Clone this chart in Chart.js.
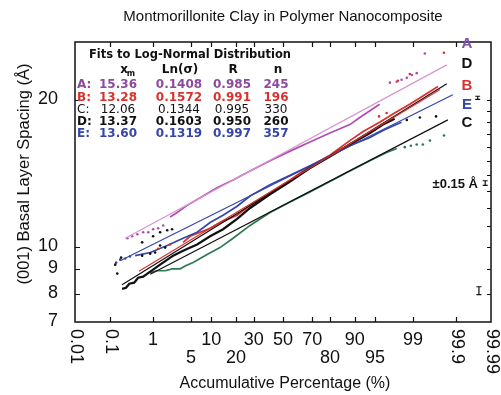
<!DOCTYPE html>
<html>
<head>
<meta charset="utf-8">
<script src="https://cdn.jsdelivr.net/npm/chart.js@4.4.1/dist/chart.umd.min.js"></script>
<style>
  html, body { margin: 0; padding: 0; background: #fff; }
  #wrap { width: 501px; height: 395px; }
</style>
</head>
<body>
<div id="wrap"><canvas id="clayChart" width="501" height="395"></canvas></div>
<script>
// --- axis ticks ---
const xTickValues = [0.01, 0.1, 1, 5, 10, 20, 30, 50, 70, 80, 90, 95, 99, 99.9, 99.99];
const xTickLabels = ['0.01', '0.1', '1', '5', '10', '20', '30', '50', '70', '80', '90', '95', '99', '99.9', '99.99'];
const yTickValues = [7, 8, 9, 10, 20];

// --- measured spacings (percent, Angstrom) ---
const pctA = [2.18, 2.92, 4.33, 6.92, 11.9, 18.6, 27.8, 40.8, 55.0, 68.5, 79.9, 88.4, 91.5, 94.0, 95.8];
const spcA = [11.5, 11.75, 12.15, 12.6, 13.2, 13.7, 14.3, 15.0, 15.7, 16.4, 17.1, 17.8, 18.4, 19.0, 19.6];
const tailPctA = [0.27, 0.35, 0.46, 0.62, 0.80, 1.01, 1.28, 1.61, 97.2, 97.9, 98.3, 98.66, 98.94, 99.16, 99.44];
const tailSpcA = [10.4, 10.5, 10.6, 10.7, 10.7, 10.85, 10.9, 11.05, 21.7, 21.8, 22.0, 22.2, 22.5, 22.7, 24.9];

const pctB = [3.70, 4.84, 6.92, 9.62, 13.0, 20.6, 27.8, 40.8, 55.0, 68.5, 79.9, 88.4, 92.3, 95.8, 97.7, 98.83, 99.44, 99.72];
const spcB = [10.2, 10.5, 10.7, 10.9, 11.2, 11.6, 12.15, 12.9, 13.7, 14.6, 15.4, 16.5, 17.2, 18.0, 18.8, 19.6, 20.5, 21.3];
const tailPctB = [1.28, 2.18, 95.7, 96.8, 98.0, 98.83, 99.80];
const tailSpcB = [9.9, 10.1, 18.5, 18.8, 21.9, 22.6, 25.0];

const pctC = [0.88, 1.22, 1.76, 2.37, 3.30, 4.16, 5.40, 8.74, 13.0, 18.6, 27.8, 40.8, 55.0, 68.5, 79.9, 88.4, 94.0, 96.8, 97.9];
const spcC = [8.84, 8.92, 8.92, 9.0, 9.0, 9.14, 9.27, 9.63, 9.95, 10.4, 11.05, 11.75, 12.35, 12.95, 13.6, 14.3, 15.0, 15.6, 15.9];
const tailPctC = [98.53, 98.89, 99.16, 99.38, 99.57, 99.80];
const tailSpcC = [16.0, 16.1, 16.2, 16.2, 16.5, 16.9];

const pctD = [0.20, 0.25, 0.30, 0.39, 0.48, 0.62, 0.88, 1.40, 2.48, 3.70, 6.23, 9.62, 14.2, 20.6, 27.8, 40.8, 55.0, 68.5, 79.9, 88.4, 94.0, 96.3, 97.7];
const spcD = [8.19, 8.23, 8.39, 8.43, 8.63, 8.67, 8.88, 9.18, 9.58, 9.8, 10.1, 10.5, 10.85, 11.4, 12.0, 12.8, 13.6, 14.5, 15.3, 16.2, 17.1, 17.8, 18.3];
const tailPctD = [0.135, 0.152, 0.19, 0.59, 0.59, 0.88, 1.11, 1.01, 1.40, 1.92, 2.37, 1.40, 1.76, 98.66, 99.28, 99.69];
const tailSpcD = [9.18, 8.8, 9.49, 10.2, 9.58, 9.67, 9.72, 10.5, 10.7, 10.8, 10.85, 10.05, 9.95, 18.2, 18.4, 18.5];

const pctE = [0.41, 0.88, 1.92, 3.70, 6.23, 9.62, 14.2, 20.6, 27.8, 40.8, 55.0, 68.5, 79.9, 88.4, 94.0, 96.3, 97.7, 98.3];
const spcE = [9.58, 9.72, 10.05, 10.4, 10.7, 11.2, 11.6, 12.1, 12.7, 13.4, 14.0, 14.65, 15.35, 16.1, 16.75, 17.3, 17.75, 18.0];
const tailPctE = [0.143, 0.18, 0.24, 0.31];
const tailSpcE = [9.27, 9.4, 9.45, 9.54];

// --- log-normal fit lines (end points) ---
const fitPctA = [0.24, 99.83], fitSpcA = [10.4, 23.6];
const fitPctB = [0.5, 99.75], fitSpcB = [8.9, 21.0];
const fitPctC = [0.88, 99.84], fitSpcC = [8.77, 18.2];
const fitPctD = [0.20, 99.83], fitSpcD = [8.35, 21.6];
const fitPctE = [0.18, 99.88], fitSpcE = [9.35, 20.5];

// --- fit table ---
const fitNames = ['A', 'B', 'C', 'D', 'E'];
const fitXm = [15.36, 13.28, 12.06, 13.37, 13.60];
const fitLnSigma = [0.1408, 0.1572, 0.1344, 0.1603, 0.1319];
const fitR = [0.985, 0.991, 0.995, 0.950, 0.997];
const fitN = [245, 196, 330, 260, 357];

// --- error bars (+/- 0.15 A) ---
const errPct = [99.975, 99.985, 99.977];
const errSpc = [20.2, 13.5, 8.12];
const errHalf = 0.15;

const colA = '#b04db0', colAfit = '#d896d2', colAtext = '#8a4a9e';
const colB = '#d8322f';
const colC = '#2f7a55';
const colD = '#111111';
const colE = '#3646a8';

// inverse normal CDF (Acklam)
function probit(p) {
    const a = [-39.69683028665376, 220.9460984245205, -275.9285104469687, 138.3577518672690, -30.66479806614716, 2.506628277459239];
    const b = [-54.47609879822406, 161.5858368580409, -155.6989798598866, 66.80131188771972, -13.28068155288572];
    const c = [-0.007784894002430293, -0.3223964580411365, -2.400758277161838, -2.549671348912368, 4.374664141464968, 2.938163982698783];
    const d = [0.007784695709041462, 0.3224671290700398, 2.445134137142996, 3.754408661907416];
    const pl = 0.02425;
    if (p < pl) {
        const q = Math.sqrt(-2 * Math.log(p));
        return (((((c[0] * q + c[1]) * q + c[2]) * q + c[3]) * q + c[4]) * q + c[5]) / ((((d[0] * q + d[1]) * q + d[2]) * q + d[3]) * q + 1);
    }
    if (p > 1 - pl) {
        const q = Math.sqrt(-2 * Math.log(1 - p));
        return -(((((c[0] * q + c[1]) * q + c[2]) * q + c[3]) * q + c[4]) * q + c[5]) / ((((d[0] * q + d[1]) * q + d[2]) * q + d[3]) * q + 1);
    }
    const q = p - 0.5, r = q * q;
    return (((((a[0] * r + a[1]) * r + a[2]) * r + a[3]) * r + a[4]) * r + a[5]) * q / (((((b[0] * r + b[1]) * r + b[2]) * r + b[3]) * r + b[4]) * r + 1);
}

// normal probability axis
class ProbabilityScale extends Chart.LinearScale {
    determineDataLimits() {
        this.min = xTickValues[0];
        this.max = xTickValues[xTickValues.length - 1];
    }
    buildTicks() {
        return xTickValues.map(value => ({ value }));
    }
    getPixelForValue(value) {
        const zMin = probit(this.min / 100);
        const zMax = probit(this.max / 100);
        return this.getPixelForDecimal((probit(value / 100) - zMin) / (zMax - zMin));
    }
}
ProbabilityScale.id = 'probability';
ProbabilityScale.defaults = {};
Chart.register(ProbabilityScale);

const toPoints = (xs, ys) => xs.map((v, i) => ({ x: v, y: ys[i] }));

const lineSet = (xs, ys, color, width, order) => ({
    data: toPoints(xs, ys), showLine: true, borderColor: color, borderWidth: width,
    pointRadius: 0, tension: 0, order
});
const dotSet = (xs, ys, color) => ({
    data: toPoints(xs, ys), showLine: false, backgroundColor: color, borderWidth: 0,
    pointRadius: 1.3, order: 1
});

const errorSets = errPct.map((p, i) => ({
    data: toPoints([p, p], [errSpc[i] - errHalf, errSpc[i] + errHalf]),
    showLine: true, borderColor: '#111', borderWidth: 1.2,
    pointStyle: 'line', pointRadius: 2.5, pointBorderWidth: 1.2, pointBorderColor: '#111',
    order: 0
}));

const decorPlugin = {
    id: 'decor',
    afterDatasetsDraw(chart) {
        const { ctx, chartArea: area, scales: { x, y } } = chart;
        ctx.save();

        // frame + inward ticks
        ctx.strokeStyle = '#111';
        ctx.lineWidth = 1.5;
        ctx.strokeRect(area.left, area.top, area.right - area.left, area.bottom - area.top);
        ctx.lineWidth = 1.2;
        ctx.beginPath();
        xTickValues.slice(1, -1).forEach(v => {
            const px = Math.round(x.getPixelForValue(v)) + 0.5;
            ctx.moveTo(px, area.bottom); ctx.lineTo(px, area.bottom - 5);
            ctx.moveTo(px, area.top); ctx.lineTo(px, area.top + 5);
        });
        [8, 9, 10, 11, 12, 13, 14, 15, 16, 17, 18, 19, 20].forEach(v => {
            const py = Math.round(y.getPixelForValue(v)) + 0.5;
            if (yTickValues.includes(v)) { ctx.moveTo(area.left, py); ctx.lineTo(area.left + 5, py); }
            ctx.moveTo(area.right, py); ctx.lineTo(area.right - 4, py);
        });
        ctx.stroke();

        ctx.fillStyle = '#111';
        ctx.textBaseline = 'middle';

        // title
        ctx.font = '15px "Liberation Sans", Arial, sans-serif';
        ctx.textAlign = 'center';
        ctx.fillText('Montmorillonite Clay in Polymer Nanocomposite', 283, 17);

        // axis titles
        ctx.font = '16px "Liberation Sans", Arial, sans-serif';
        ctx.fillText('Accumulative Percentage (%)', 285, 384);
        ctx.save();
        ctx.translate(24, 174);
        ctx.rotate(-Math.PI / 2);
        ctx.font = '16.5px "Liberation Sans", Arial, sans-serif';
        ctx.fillText('(001) Basal Layer Spacing (\u00C5)', 0, 0);
        ctx.restore();

        // y tick labels
        ctx.font = '18px "Liberation Sans", Arial, sans-serif';
        ctx.textAlign = 'right';
        yTickValues.forEach(v => ctx.fillText(String(v), 58, y.getPixelForValue(v) - 1));

        // x tick labels
        const rotated = ['0.01', '0.1', '99.9', '99.99'];
        const lower = ['5', '20', '80', '95'];
        xTickValues.forEach((v, i) => {
            const label = xTickLabels[i];
            const px = x.getPixelForValue(v);
            if (rotated.includes(label)) {
                ctx.save();
                ctx.translate(Math.min(px + 1, 493), 329);
                ctx.rotate(Math.PI / 2);
                ctx.textAlign = 'left';
                ctx.fillText(label, 0, 0);
                ctx.restore();
            } else {
                ctx.textAlign = 'center';
                ctx.fillText(label, px, lower.includes(label) ? 358 : 340);
            }
        });

        // fit table
        const rowColors = [colAtext, colB, '#111', '#111', colE];
        const rowY = [85, 97.5, 110, 122, 134];
        ctx.font = 'bold 11.5px "DejaVu Sans", sans-serif';
        ctx.textAlign = 'center';
        ctx.fillStyle = '#111';
        ctx.fillText('Fits to Log-Normal Distribution', 190, 55);
        ctx.font = 'bold 12px "DejaVu Sans", sans-serif';
        ctx.fillText('x', 124, 70);
        ctx.font = 'bold 8px "DejaVu Sans", sans-serif';
        ctx.fillText('m', 131, 74);
        ctx.font = 'bold 12px "DejaVu Sans", sans-serif';
        ctx.fillText('Ln(\u03C3)', 180, 70);
        ctx.fillText('R', 233, 70);
        ctx.fillText('n', 278, 70);
        fitNames.forEach((name, i) => {
            ctx.fillStyle = rowColors[i];
            ctx.font = (name === 'C' ? '' : 'bold ') + '12px "DejaVu Sans", sans-serif';
            ctx.textAlign = 'left';
            ctx.fillText(name + ':', 77, rowY[i]);
            ctx.textAlign = 'center';
            ctx.fillText(fitXm[i].toFixed(2), 118, rowY[i]);
            ctx.fillText(fitLnSigma[i].toFixed(4), 179, rowY[i]);
            ctx.fillText(fitR[i].toFixed(3), 232, rowY[i]);
            ctx.fillText(String(fitN[i]), 276, rowY[i]);
        });

        // series letters
        const letters = ['A', 'D', 'B', 'E', 'C'];
        const letterColors = ['#7e4fa9', '#111', colB, colE, '#111'];
        const letterY = [44, 64, 86, 105, 123];
        ctx.font = 'bold 15px "Liberation Sans", Arial, sans-serif';
        ctx.textAlign = 'center';
        letters.forEach((l, i) => {
            ctx.fillStyle = letterColors[i];
            ctx.fillText(l, 467, letterY[i]);
        });

        // error label
        ctx.fillStyle = '#111';
        ctx.font = 'bold 13px "Liberation Sans", Arial, sans-serif';
        ctx.textAlign = 'right';
        ctx.fillText('\u00B10.15 \u00C5', 478, 184);

        ctx.restore();
    }
};

new Chart(document.getElementById('clayChart'), {
    type: 'scatter',
    data: {
        datasets: [
            lineSet(fitPctA, fitSpcA, colAfit, 1.3, 0),
            lineSet(fitPctB, fitSpcB, colB, 1.2, 0),
            lineSet(fitPctC, fitSpcC, '#111', 1.2, 0),
            lineSet(fitPctD, fitSpcD, '#111', 1.2, 0),
            lineSet(fitPctE, fitSpcE, colE, 1.2, 0),
            ...errorSets,
            dotSet(tailPctA, tailSpcA, colA),
            dotSet(tailPctB, tailSpcB, colB),
            dotSet(tailPctC, tailSpcC, colC),
            dotSet(tailPctD, tailSpcD, colD),
            dotSet(tailPctE, tailSpcE, colE),
            lineSet(pctA, spcA, colA, 1.7, 3),
            lineSet(pctE, spcE, colE, 1.7, 3),
            lineSet(pctC, spcC, colC, 1.7, 3),
            lineSet(pctD, spcD, colD, 2.3, 2),
            lineSet(pctB, spcB, colB, 1.8, 4)
        ]
    },
    options: {
        responsive: false,
        animation: false,
        events: [],
        layout: { padding: { left: 75, top: 42, right: 10, bottom: 73 } },
        plugins: {
            legend: { display: false },
            tooltip: { enabled: false }
        },
        scales: {
            x: { type: 'probability', display: false },
            y: { type: 'logarithmic', display: false, min: 7, max: 26.3 }
        }
    },
    plugins: [decorPlugin]
});
</script>
</body>
</html>
